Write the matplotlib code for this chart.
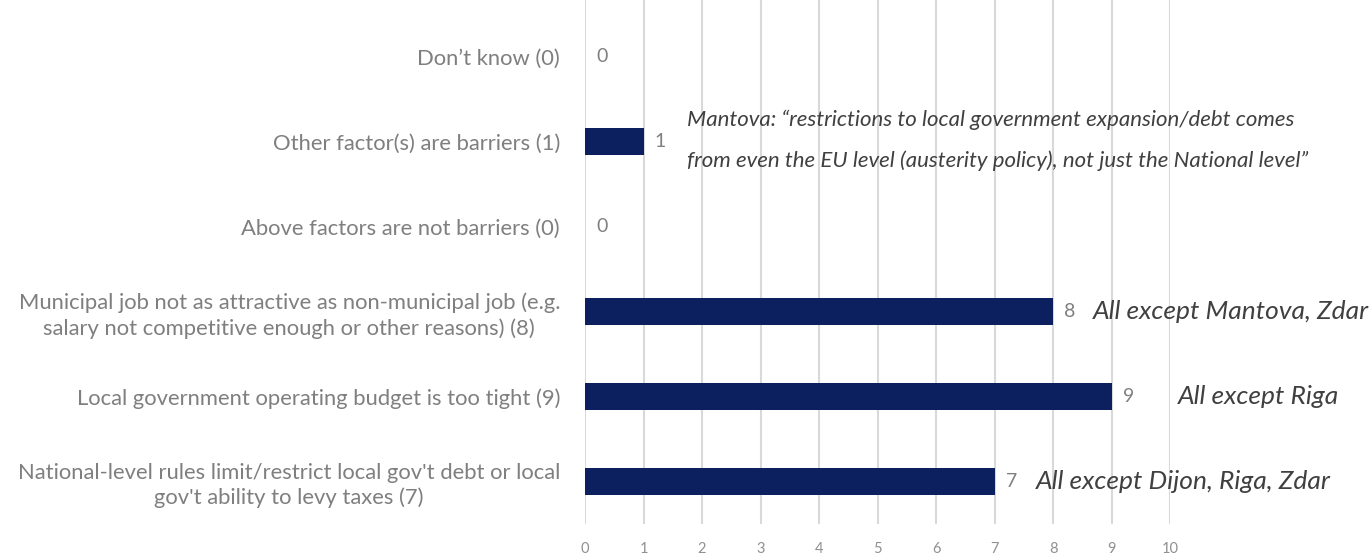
import matplotlib
matplotlib.use("Agg")
import matplotlib.pyplot as plt
import numpy as np

# data (bottom to top)
categories = [
    "National-level rules limit/restrict local gov't debt or local\ngov't ability to levy taxes (7)",
    "Local government operating budget is too tight (9)",
    "Municipal job not as attractive as non-municipal job (e.g.\nsalary not competitive enough or other reasons) (8)",
    "Above factors are not barriers (0)",
    "Other factor(s) are barriers (1)",
    "Don\u2019t know (0)",
]
counts = [7, 9, 8, 0, 1, 0]
notes = ["All except Dijon, Riga, Zdar", "All except Riga", "All except Mantova, Zdar", "", "", ""]
note_x = [7.71, 10.14, 8.68, 0, 0, 0]
quote = ("Mantova: \u201crestrictions to local government expansion/debt comes\n"
         "from even the EU level (austerity policy), not just the National level\u201d")

plt.rcParams['font.family'] = ['Lato', 'DejaVu Sans']

fig = plt.figure(figsize=(13.72, 5.54), dpi=100)
ax = fig.add_axes([0.4264, 0.055, 0.4264, 0.945])

y = np.arange(len(categories))
ax.barh(y, counts, height=0.32, color='#0c2060', zorder=3)

for yi, c in zip(y, counts):
    ax.annotate(str(c), (c, yi), xytext=(8, 0), textcoords='offset points',
                va='center', ha='left', fontsize=14, color='#808080')

for yi, n, nx in zip(y, notes, note_x):
    if n:
        ax.text(nx, yi, n, va='center', ha='left', fontsize=19,
                style='italic', color='#404040')

ax.text(1.74, 4.02, quote, va='center', ha='left', fontsize=16,
        style='italic', color='#404040', linespacing=2.25)

ax.set_xlim(0, 10)
ax.set_ylim(-0.5, 5.67)
ax.set_xticks(range(0, 11))
ax.set_yticks(y)
ax.set_yticklabels(categories, fontsize=15.8, color='#7f7f7f')
for lab in ax.get_yticklabels():
    lab.set_multialignment('center')
    lab.set_linespacing(1.3)
ax.tick_params(axis='y', length=0, pad=18)
ax.tick_params(axis='x', length=0, labelsize=10.5, labelcolor='#909090', pad=13)
ax.grid(axis='x', color='#d9d9d9', linewidth=1.5, zorder=0)
for s in ax.spines.values():
    s.set_visible(False)

fig.savefig("out.png", dpi=100)
